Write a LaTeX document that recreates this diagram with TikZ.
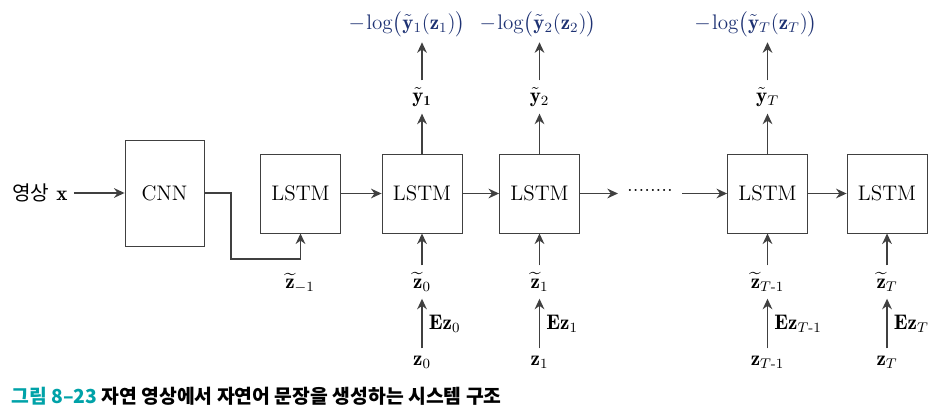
\documentclass[tikz,border=0pt]{standalone}
\usepackage{amsmath}
\usepackage{amssymb}
\usepackage{xcolor}
\usepackage{fontspec}
\newfontfamily\krfont{Noto Sans CJK KR}
\usepackage{tikz}
\usetikzlibrary{arrows.meta, positioning, calc}
\definecolor{linegray}{RGB}{64,64,64}
\definecolor{lossblue}{RGB}{30,50,115}
\definecolor{capteal}{RGB}{0,162,168}
\tikzstyle{cnnbox} = [rectangle, minimum width=1.58cm, minimum height=2.12cm, text centered, draw=linegray, line width=0.5pt]
\tikzstyle{lstmbox} = [rectangle, minimum width=1.6cm, minimum height=1.58cm, text centered, draw=linegray, line width=0.5pt]
\tikzstyle{arrow} = [line width=1.1pt, draw=linegray, ->, >={Stealth[length=6pt, width=5.5pt]}]
\tikzstyle{var} = [inner sep=4pt]
\tikzstyle{loss} = [text=lossblue, inner sep=3pt]
\newcommand{\nlog}{\mathord{-}\mkern-2mu\log\bigl(}

\begin{document}
\begin{tikzpicture}[x=0.02cm, y=-0.02cm, font=\fontsize{12}{14}\selectfont]
\useasboundingbox (0,0) rectangle (935,412);
\node (img) at (40,193) {{\krfont\fontsize{11.5}{13}\selectfont 영상} $\mathbf{x}$};
\node (cnn) [cnnbox] at (164.5,193) {CNN};
\node (l1) [lstmbox] at (300.5,193.5) {LSTM};
\node (l2) [lstmbox] at (422,193.5) {LSTM};
\node (l3) [lstmbox] at (539.5,193.5) {LSTM};
\node (dots) [inner sep=5pt] at (650,190) {........};
\node (lt1) [lstmbox] at (767.5,193.5) {LSTM};
\node (lt) [lstmbox] at (887,193.5) {LSTM};
\coordinate (bend) at (231,259);

% outputs
\node (y1) [var] at (422,97) {$\tilde{\mathbf{y}}_{\mathbf{1}}$};
\node (y2) [var] at (539.5,97) {$\tilde{\mathbf{y}}_2$};
\node (yt) [var] at (767.5,97) {$\tilde{\mathbf{y}}_T$};
\node (loss1) [loss] at (407,24) {$\nlog\tilde{\mathbf{y}}_1(\mathbf{z}_1)\bigr)$};
\node (loss2) [loss] at (538,24) {$\nlog\tilde{\mathbf{y}}_2(\mathbf{z}_2)\bigr)$};
\node (losst) [loss] at (756,24) {$\nlog\tilde{\mathbf{y}}_T(\mathbf{z}_T)\bigr)$};

% inputs
\node (ztm1) [var] at (300,283) {$\widetilde{\mathbf{z}}_{-1}$};
\node (zt0) [var] at (422,282) {$\widetilde{\mathbf{z}}_0$};
\node (zt1) [var] at (539.5,282) {$\widetilde{\mathbf{z}}_1$};
\node (ztt1) [var] at (767.5,282) {$\widetilde{\mathbf{z}}_{T\text{-}1}$};
\node (ztt) [var] at (887,282) {$\widetilde{\mathbf{z}}_T$};
\node (z0) [var] at (422,362) {$\mathbf{z}_0$};
\node (z1) [var] at (539.5,362) {$\mathbf{z}_1$};
\node (zt1i) [var] at (767.5,362) {$\mathbf{z}_{T\text{-}1}$};
\node (zti) [var] at (887,362) {$\mathbf{z}_T$};

\node (cap) [anchor=west, inner sep=0pt] at (11,396) {\krfont\bfseries\fontsize{11}{13}\selectfont \textcolor{capteal}{그림 8–23} 자연 영상에서 자연어 문장을 생성하는 시스템 구조};

\draw [arrow] (img) -- (cnn);
\draw [arrow] (cnn.east) -| (bend) -| (l1.south);
\draw [arrow] (l1) -- (l2);
\draw [arrow] (l2) -- (l3);
\draw [arrow] (l3) -- (l3.east -| dots.west);
\draw [arrow] (dots.east |- lt1.west) -- (lt1);
\draw [arrow] (lt1) -- (lt);

\draw [arrow] (l2) -- (y1);
\draw [arrow] (l3) -- (y2);
\draw [arrow] (lt1) -- (yt);
\draw [arrow] (y1) -- (y1 |- loss1.south);
\draw [arrow] (y2) -- (y2 |- loss2.south);
\draw [arrow] (yt) -- (yt |- losst.south);

\draw [arrow] (zt0) -- (l2);
\draw [arrow] (zt1) -- (l3);
\draw [arrow] (ztt1) -- (lt1);
\draw [arrow] (ztt) -- (lt);
\draw [arrow] (z0) -- node[right] {$\mathbf{Ez}_0$} (zt0);
\draw [arrow] (z1) -- node[right] {$\mathbf{Ez}_1$} (zt1);
\draw [arrow] (zt1i) -- node[right] {$\mathbf{Ez}_{T\text{-}1}$} (ztt1);
\draw [arrow] (zti) -- node[right] {$\mathbf{Ez}_T$} (ztt);
\end{tikzpicture}
\end{document}
